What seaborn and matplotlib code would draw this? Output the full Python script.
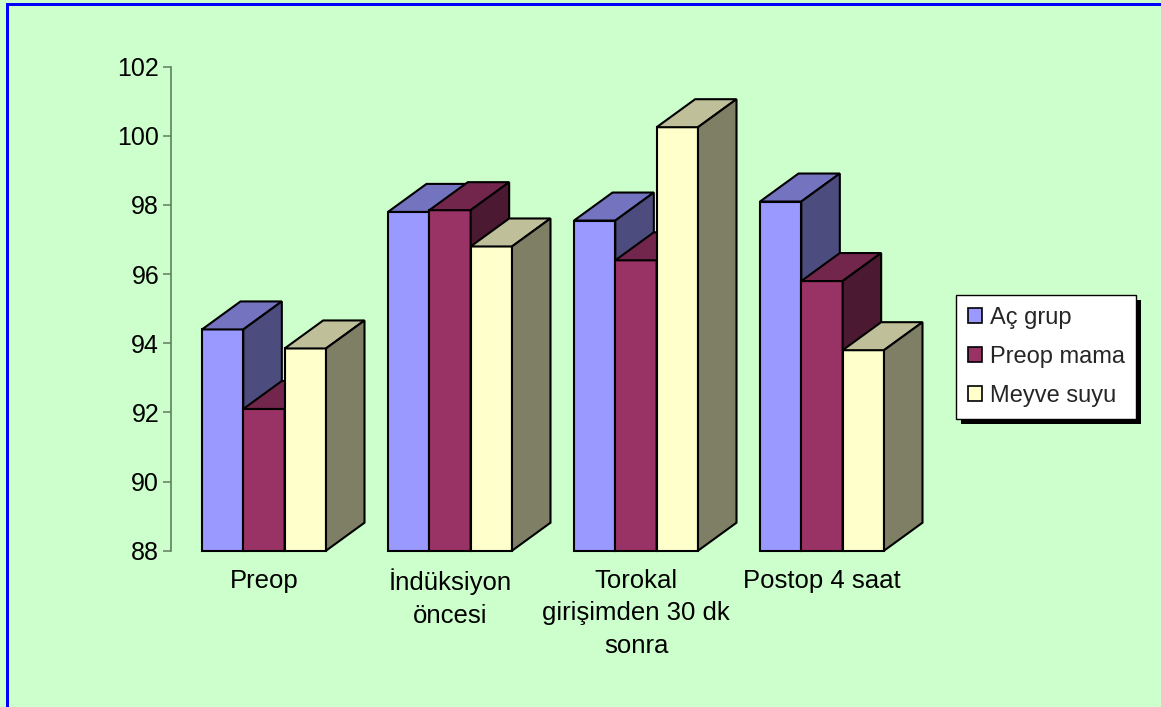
import numpy as np
import pandas as pd
import seaborn as sns
import matplotlib
matplotlib.use("Agg")
import matplotlib.pyplot as plt
import matplotlib.patches as mpatches
from matplotlib.patches import Polygon, Rectangle

# ---- data -------------------------------------------------------------
phases = ["Preop", "İndüksiyon\nöncesi", "Torokal\ngirişimden 30 dk\nsonra", "Postop 4 saat"]
groups = ["Aç grup", "Preop mama", "Meyve suyu"]
ac_grup = [94.4, 97.8, 97.55, 98.1]
preop_mama = [92.1, 97.85, 96.4, 95.8]
meyve_suyu = [93.85, 96.8, 100.25, 93.8]
y_ticks = [88, 90, 92, 94, 96, 98, 100, 102]

# ---- styling ----------------------------------------------------------
BG = "#CCFFCC"
front_colors = ["#9999FF", "#993366", "#FFFFCC"]
top_colors = ["#7373BF", "#73264C", "#BFBF99"]
side_colors = ["#4C4C7F", "#4C1933", "#7F7F66"]
AXIS_GRAY = "#5f7f5f"

sns.set_theme(style="white")
plt.rcParams["font.family"] = ["Liberation Sans", "DejaVu Sans"]

W, H, DPI = 1161, 707, 100
fig = plt.figure(figsize=(W / DPI, H / DPI), dpi=DPI, facecolor=BG)

# axes placed in pixel terms: x from 171 to 915, y(88)=550.7, y(102)=66.7
ax_l, ax_r, ax_b, ax_t = 171, 915, 550.7, 66.7
ax = fig.add_axes([ax_l / W, (H - ax_b) / H, (ax_r - ax_l) / W, (ax_b - ax_t) / H])
ax.patch.set_visible(False)

df = pd.DataFrame({
    "phase": np.repeat(phases, len(groups)),
    "group": groups * len(phases),
    "value": np.ravel(np.column_stack([ac_grup, preop_mama, meyve_suyu])),
})

sns.barplot(data=df, x="phase", y="value", hue="group", order=phases,
            hue_order=groups, palette=front_colors, saturation=1,
            width=2 / 3, edgecolor="black", linewidth=1.5, legend=False,
            errorbar=None, ax=ax)

YMIN, YMAX = 88, 102
ax.set_xlim(-0.5, 3.5)
ax.set_ylim(YMIN, YMAX)

# depth offset of the pseudo-3D columns (pixels -> data units)
dx_px, dy_px = 38.5, 28.0
dx = dx_px * (4.0 / (ax_r - ax_l))
dy = dy_px * ((YMAX - YMIN) / (ax_b - ax_t))

for hi, cont in enumerate(ax.containers):
    for bar in cont:
        x0, w, val = bar.get_x(), bar.get_width(), bar.get_height()
        # front face sits on the floor of the value axis
        bar.set_y(YMIN)
        bar.set_height(val - YMIN)
        bar.set_clip_on(False)
        bar.set_joinstyle("miter")
        bar.set_zorder(2 + hi)
        top = Polygon([(x0, val), (x0 + w, val), (x0 + w + dx, val + dy), (x0 + dx, val + dy)],
                      closed=True, facecolor=top_colors[hi], edgecolor="black",
                      linewidth=1.5, joinstyle="miter", clip_on=False, zorder=2.5 + hi)
        side = Polygon([(x0 + w, YMIN), (x0 + w, val), (x0 + w + dx, val + dy), (x0 + w + dx, YMIN + dy)],
                       closed=True, facecolor=side_colors[hi], edgecolor="black",
                       linewidth=1.5, joinstyle="miter", clip_on=False, zorder=2.5 + hi)
        ax.add_patch(top)
        ax.add_patch(side)

# axes decoration
for s in ["top", "right", "bottom"]:
    ax.spines[s].set_visible(False)
ax.spines["left"].set_color(AXIS_GRAY)
ax.spines["left"].set_linewidth(1.2)
ax.set_yticks(y_ticks)
ax.set_yticklabels([str(t) for t in y_ticks], fontsize=18, color="black")
ax.tick_params(axis="y", which="major", left=True, length=6, width=1.1,
               color=AXIS_GRAY, pad=2.5)
ax.tick_params(axis="x", length=0, pad=13)
ax.set_xticks(range(len(phases)))
ax.set_xticklabels(phases, fontsize=18.5, color="black", linespacing=1.45)
ax.set_xlabel("")
ax.set_ylabel("")
ax.grid(False)

# legend with a solid drop shadow
handles = [mpatches.Patch(facecolor=c, edgecolor="black", linewidth=1.2) for c in front_colors]
leg = fig.legend(handles, groups, loc="upper left",
                 bbox_to_anchor=(956 / W, 1 - 295 / H), borderaxespad=0,
                 fontsize=17, frameon=True, fancybox=False, framealpha=1,
                 edgecolor="black", facecolor="white",
                 handlelength=0.62, handleheight=0.62, handletextpad=0.3,
                 labelspacing=0.72, borderpad=0.5)
leg.get_frame().set_linewidth(1.0)
fig.canvas.draw()
bb = leg.get_window_extent()
fig.add_artist(Rectangle((bb.x0 + 5, bb.y0 - 5), bb.width, bb.height,
                         transform=None, facecolor="black", edgecolor="none",
                         zorder=4.9))

# blue frame on the left and top edges
fig.add_artist(Rectangle((6 / W, 0), 3 / W, (H - 3) / H, transform=fig.transFigure,
                         facecolor="#0000FF", edgecolor="none", zorder=10))
fig.add_artist(Rectangle((6 / W, (H - 6) / H), (W - 6) / W, 3 / H, transform=fig.transFigure,
                         facecolor="#0000FF", edgecolor="none", zorder=10))

fig.savefig("out.png", dpi=DPI, facecolor=BG)
